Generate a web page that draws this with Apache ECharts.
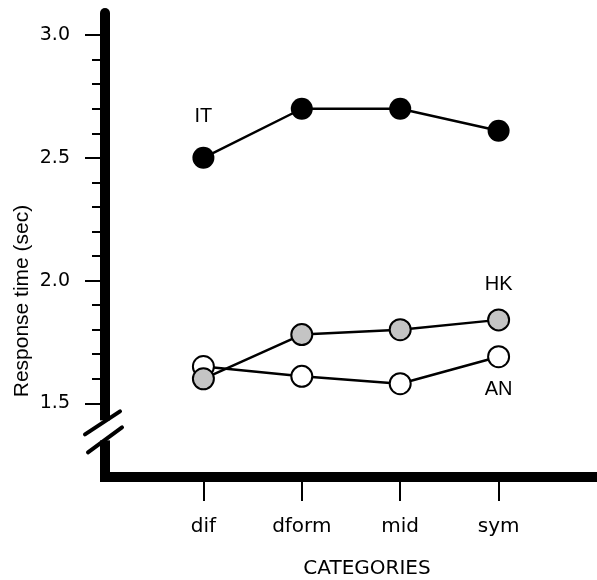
<!DOCTYPE html>
<html>
<head>
<meta charset="utf-8">
<script src="https://cdn.jsdelivr.net/npm/echarts@6/dist/echarts.min.js"></script>
<style>
html,body{margin:0;padding:0;background:#fff;}
#chart{width:597px;height:580px;}
</style>
</head>
<body>
<div id="chart"></div>
<script>
// ---- data ----
const categories = ['dif', 'dform', 'mid', 'sym'];
const categoryPositions = [1, 2, 3, 4];
const seriesNames = ['IT', 'HK', 'AN'];
const itValues = [2.50, 2.70, 2.70, 2.61];
const hkValues = [1.60, 1.78, 1.80, 1.84];
const anValues = [1.65, 1.61, 1.58, 1.69];
const yMajorTicks = [1.5, 2.0, 2.5, 3.0];
const yMinorTicks = [1.6, 1.7, 1.8, 1.9, 2.1, 2.2, 2.3, 2.4, 2.6, 2.7, 2.8, 2.9];
const yMin = 1.2, yMax = 3.09;
const xMin = 0, xMax = 5;
const breakValue = 1.39;
const yTitle = 'Response time (sec)';
const xTitle = 'CATEGORIES';

const pairs = vals => vals.map((v, i) => [categoryPositions[i], v]);

function withLabel(data, idx, text, position, distance) {
  return data.map((d, i) => i === idx ? {
    value: d,
    label: {show: true, formatter: text, position: position, distance: distance,
      color: '#000', fontFamily: 'Liberation Sans', fontSize: 20}
  } : d);
}

const chart = echarts.init(document.getElementById('chart'), null, {renderer: 'canvas'});

const lineBase = {
  type: 'line', symbol: 'circle', animation: false,
  lineStyle: {color: '#000', width: 2.5},
  xAxisIndex: 0, yAxisIndex: 0
};

chart.setOption({
  animation: false,
  grid: {left: 105, right: -3, top: 13, bottom: 103, containLabel: false},
  xAxis: {
    type: 'value', min: xMin, max: xMax,
    axisLine: {show: true, onZero: false, lineStyle: {color: '#000', width: 10, cap: 'square'}},
    axisTick: {show: true, customValues: categoryPositions, length: 24, lineStyle: {color: '#000', width: 2}},
    axisLabel: {show: true, customValues: categoryPositions, margin: 40,
      formatter: v => categories[categoryPositions.indexOf(v)] || '',
      color: '#000', fontFamily: 'DejaVu Sans', fontSize: 20},
    splitLine: {show: false}
  },
  yAxis: [{
    type: 'value', min: yMin, max: yMax, position: 'left',
    axisLine: {show: true, onZero: false, lineStyle: {color: '#000', width: 10}},
    axisTick: {show: true, customValues: yMajorTicks, length: 20, lineStyle: {color: '#000', width: 2}},
    axisLabel: {show: true, customValues: yMajorTicks, margin: 35,
      formatter: v => v.toFixed(1), color: '#000', fontFamily: 'DejaVu Sans', fontSize: 19},
    splitLine: {show: false}
  }, {
    type: 'value', min: yMin, max: yMax, position: 'left', offset: 0,
    axisLine: {show: false, onZero: false},
    axisTick: {show: true, customValues: yMinorTicks, length: 13, lineStyle: {color: '#000', width: 2}},
    axisLabel: {show: false},
    splitLine: {show: false}
  }],
  series: [
    Object.assign({}, lineBase, {
      name: seriesNames[2], z: 2,
      symbolSize: 21,
      itemStyle: {color: '#fff', borderColor: '#000', borderWidth: 2},
      data: withLabel(pairs(anValues), 3, seriesNames[2], 'bottom', 11)
    }),
    Object.assign({}, lineBase, {
      name: seriesNames[1], z: 3,
      symbolSize: 21,
      itemStyle: {color: '#c4c4c4', borderColor: '#000', borderWidth: 2},
      data: withLabel(pairs(hkValues), 3, seriesNames[1], 'top', 14)
    }),
    Object.assign({}, lineBase, {
      name: seriesNames[0], z: 4,
      symbolSize: 22,
      itemStyle: {color: '#000', borderColor: '#000', borderWidth: 0},
      data: withLabel(pairs(itValues), 0, seriesNames[0], 'top', 20)
    })
  ]
});

// decorations: axis break, titles
const ax = chart.convertToPixel({xAxisIndex: 0}, xMin);
const yb = chart.convertToPixel({yAxisIndex: 0}, breakValue);
const midX = (chart.convertToPixel({xAxisIndex: 0}, categoryPositions[0]) +
              chart.convertToPixel({xAxisIndex: 0}, categoryPositions[categoryPositions.length - 1])) / 2;
const yMid = chart.convertToPixel({yAxisIndex: 0}, 1.2) ;

chart.setOption({
  graphic: [
    {type: 'rect', shape: {x: ax - 7, y: yb - 10, width: 14, height: 20}, style: {fill: '#fff'}, z: 100},
    {type: 'line', shape: {x1: ax - 20, y1: yb + 4, x2: ax + 15, y2: yb - 19},
      style: {stroke: '#000', lineWidth: 4, lineCap: 'round'}, z: 101},
    {type: 'line', shape: {x1: ax - 17, y1: yb + 22, x2: ax + 17, y2: yb - 3},
      style: {stroke: '#000', lineWidth: 4, lineCap: 'round'}, z: 101},
    {type: 'text', x: 22, y: 301, rotation: Math.PI / 2,
      style: {text: yTitle, fill: '#000', font: '21px "Liberation Sans"', textAlign: 'center', textVerticalAlign: 'middle'}, z: 101},
    {type: 'text', x: midX + 16, y: 569,
      style: {text: xTitle, fill: '#000', font: '20px "DejaVu Sans"', textAlign: 'center', textVerticalAlign: 'middle'}, z: 101}
  ]
});
</script>
</body>
</html>
